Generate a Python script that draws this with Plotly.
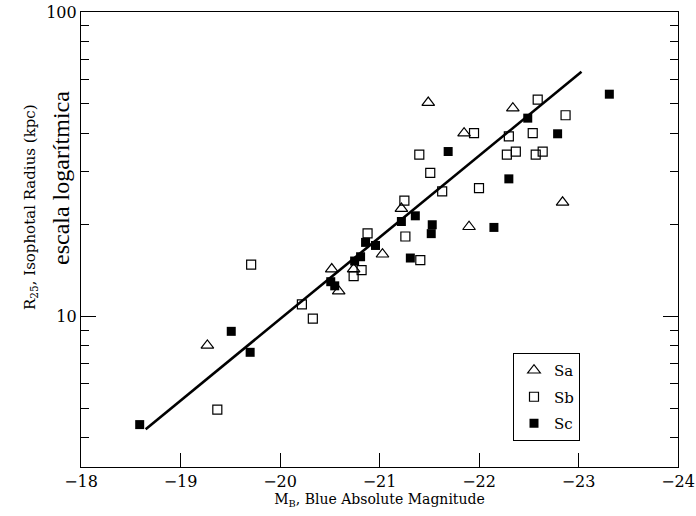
import plotly.graph_objects as go
import numpy as np

# Sa (open triangles)
sa_mag = [-19.27, -20.52, -20.59, -20.74, -21.03, -21.22, -21.49, -21.85, -21.90, -22.34, -22.84]
sa_r = [8.03, 14.3, 12.1, 14.3, 16.0, 22.6, 50.4, 40.0, 19.7, 48.3, 23.7]

# Sb (open squares)
sb_mag = [-19.37, -19.71, -20.22, -20.33, -20.74, -20.82, -20.88, -21.25, -21.26, -21.40, -21.41,
          -21.51, -21.63, -21.95, -22.00, -22.28, -22.30, -22.37, -22.54, -22.57, -22.59, -22.64, -22.87]
sb_r = [4.94, 14.8, 10.95, 9.83, 13.55, 14.2, 18.75, 24.0, 18.3, 34.0, 15.3,
        29.6, 25.75, 40.0, 26.4, 34.0, 39.0, 34.8, 40.0, 34.0, 51.5, 34.8, 45.8]

# Sc (filled squares)
sc_mag = [-18.59, -19.51, -19.70, -20.51, -20.55, -20.75, -20.81, -20.86, -20.96, -21.22,
          -21.31, -21.36, -21.52, -21.53, -21.69, -22.15, -22.30, -22.49, -22.79, -23.31]
sc_r = [4.41, 8.93, 7.62, 13.0, 12.6, 15.2, 15.7, 17.5, 17.1, 20.5,
        15.55, 21.4, 18.7, 20.0, 34.8, 19.6, 28.3, 44.8, 39.8, 53.7]

# fitted line end points
fit_mag = [-18.65, -23.03]
fit_r = [4.26, 63.6]

x_ticks = [-18, -19, -20, -21, -22, -23, -24]
x_labels = ["\u221218", "\u221219", "\u221220", "\u221221", "\u221222", "\u221223", "\u221224"]
y_major = [10, 100]
y_minor = [4, 5, 6, 7, 8, 9, 20, 30, 40, 50, 60, 70, 80, 90]

SERIF = "DejaVu Serif"

fig = go.Figure()
fig.add_trace(go.Scatter(x=fit_mag, y=fit_r, mode="lines",
                         line=dict(color="black", width=2.6), showlegend=False, hoverinfo="skip"))
fig.add_trace(go.Scatter(x=sa_mag, y=sa_r, mode="markers", name="Sa", legendgroup="a",
                         marker=dict(symbol="triangle-up-open", size=11, color="black",
                                     line=dict(width=1.2, color="black"))))
fig.add_trace(go.Scatter(x=sb_mag, y=sb_r, mode="markers", name="Sb", legendgroup="b",
                         marker=dict(symbol="square-open", size=9, color="black",
                                     line=dict(width=1.2, color="black"))))
fig.add_trace(go.Scatter(x=sc_mag, y=sc_r, mode="markers", name="Sc", legendgroup="c",
                         marker=dict(symbol="square", size=9, color="black",
                                     line=dict(width=0, color="black"))))

fig.update_layout(
    width=696, height=516,
    margin=dict(l=81, r=18, t=12, b=49, autoexpand=False),
    paper_bgcolor="white", plot_bgcolor="white",
    font=dict(family=SERIF, color="black", size=15),
    showlegend=True,
    legend=dict(x=(513 - 81) / 597, y=(467 - 353) / 455, xanchor="left", yanchor="top",
                bordercolor="black", borderwidth=1, bgcolor="white",
                font=dict(family=SERIF, size=15, color="black"),
                tracegroupgap=4, itemwidth=30),
    xaxis=dict(range=[-18, -24], tickvals=x_ticks, ticktext=x_labels, automargin=False,
               showgrid=False, zeroline=False, showline=True, linecolor="black", linewidth=1.2,
               mirror=True, ticks="inside", ticklen=14, tickwidth=1, tickcolor="black",
               tickfont=dict(family=SERIF, size=16),
               title=dict(text="M<sub>B</sub>, Blue Absolute Magnitude",
                          font=dict(family=SERIF, size=14), standoff=2)),
    yaxis=dict(type="log", range=[np.log10(3.2), 2], tickvals=y_major, ticktext=["10", "100"],
               automargin=False,
               showgrid=False, zeroline=False, showline=True, linecolor="black", linewidth=1.2,
               mirror="ticks", ticks="inside", ticklen=15, tickwidth=1, tickcolor="black",
               tickfont=dict(family=SERIF, size=16),
               minor=dict(tickvals=y_minor, ticks="inside", ticklen=8, tickwidth=1,
                          tickcolor="black", showgrid=False)),
)

fig.add_annotation(text="R<sub>25</sub>, Isophotal Radius (kpc)", textangle=-90,
                   xref="paper", yref="paper", x=(30 - 81) / 597, y=(467 - 207) / 455,
                   xanchor="center", yanchor="middle", showarrow=False,
                   font=dict(family=SERIF, size=15, color="black"))
fig.add_annotation(text="escala logarítmica", textangle=-90,
                   xref="paper", yref="paper", x=(61 - 81) / 597, y=(467 - 178) / 455,
                   xanchor="center", yanchor="middle", showarrow=False,
                   font=dict(family="Liberation Serif", size=24, color="black"))

fig.write_html("out.html")
